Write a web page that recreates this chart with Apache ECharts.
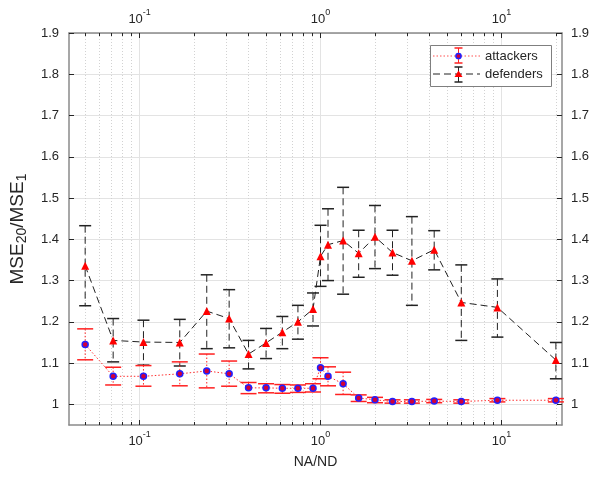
<!DOCTYPE html>
<html>
<head>
<meta charset="utf-8">
<script src="https://cdn.jsdelivr.net/npm/echarts@6/dist/echarts.min.js"></script>
<style>
  html, body { margin: 0; padding: 0; background: #fff; }
  #chart { width: 592px; height: 478px; }
</style>
</head>
<body>
<div id="chart"></div>
<script>
// NA/ND ratios on the x axis
const ratios = [0.05, 0.0714, 0.105, 0.1667, 0.235, 0.3125, 0.4, 0.5, 0.615, 0.75, 0.909,
                1.0, 1.1, 1.333, 1.625, 2, 2.5, 3.2, 4.25, 6, 9.5, 20];

// attackers: mean and error-bar limits
const attMean = [1.145, 1.068, 1.068, 1.074, 1.081, 1.074, 1.040, 1.040, 1.039, 1.039, 1.039,
                 1.089, 1.068, 1.050, 1.0155, 1.011, 1.007, 1.007, 1.008, 1.007, 1.010, 1.010];
const attLow  = [1.108, 1.047, 1.044, 1.045, 1.040, 1.044, 1.026, 1.028, 1.027, 1.029, 1.030,
                 1.062, 1.045, 1.024, 1.007, 1.004, 1.003, 1.003, 1.004, 1.003, 1.006, 1.006];
const attHigh = [1.183, 1.090, 1.094, 1.103, 1.122, 1.105, 1.053, 1.050, 1.048, 1.047, 1.050,
                 1.113, 1.091, 1.078, 1.023, 1.017, 1.011, 1.011, 1.012, 1.011, 1.014, 1.014];

// defenders: mean and error-bar limits
const defMean = [1.336, 1.155, 1.151, 1.150, 1.226, 1.208, 1.122, 1.149, 1.175, 1.200, 1.231,
                 1.359, 1.387, 1.397, 1.366, 1.406, 1.368, 1.348, 1.375, 1.247, 1.235, 1.1075];
const defLow  = [1.239, 1.103, 1.095, 1.093, 1.135, 1.137, 1.086, 1.111, 1.135, 1.158, 1.190,
                 1.286, 1.300, 1.267, 1.308, 1.329, 1.313, 1.240, 1.326, 1.155, 1.163, 1.062];
const defHigh = [1.433, 1.208, 1.204, 1.206, 1.314, 1.278, 1.155, 1.184, 1.213, 1.240, 1.270,
                 1.434, 1.474, 1.526, 1.422, 1.482, 1.422, 1.455, 1.421, 1.338, 1.304, 1.150];

// axis ticks
const xMajorTicks = [0.1, 1, 10];
const xMinorTicks = [0.05, 0.06, 0.07, 0.08, 0.09, 0.2, 0.3, 0.4, 0.5, 0.6, 0.7, 0.8, 0.9,
                     2, 3, 4, 5, 6, 7, 8, 9, 20];
const yTicks = [1, 1.1, 1.2, 1.3, 1.4, 1.5, 1.6, 1.7, 1.8, 1.9];

const X_MIN = 0.0407, X_MAX = 21.6, Y_MIN = 0.95, Y_MAX = 1.9;
const TEXT = '#262626';
const BOX = '#8a8a8a';
const DEF_DASH = [7, 4];
const ATT_DOT = [1.5, 2];

const attLine = ratios.map((x, i) => [x, attMean[i]]);
const defLine = ratios.map((x, i) => [x, defMean[i]]);
const attErr = ratios.map((x, i) => [x, attLow[i], attHigh[i]]);
const defErr = ratios.map((x, i) => [x, defLow[i], defHigh[i]]);

function powLabel(v) {
  const e = Math.round(Math.log10(v));
  return '{b|10}{s|' + e + '}';
}
const powRich = {
  b: { fontSize: 13, color: TEXT, lineHeight: 22, fontFamily: 'Liberation Sans' },
  s: { fontSize: 9, color: TEXT, verticalAlign: 'top', fontFamily: 'Liberation Sans' }
};

function errorBars(color, dash, cap, capWidth) {
  return function (params, api) {
    const x = api.value(0);
    const top = api.coord([x, api.value(2)]);
    const bot = api.coord([x, api.value(1)]);
    const capStyle = { stroke: color, lineWidth: capWidth };
    return {
      type: 'group',
      children: [
        { type: 'line', shape: { x1: top[0], y1: top[1], x2: bot[0], y2: bot[1] },
          style: { stroke: color, lineWidth: 1, lineDash: dash } },
        { type: 'line', shape: { x1: top[0] - cap, y1: top[1], x2: top[0] + cap, y2: top[1] }, style: capStyle },
        { type: 'line', shape: { x1: bot[0] - cap, y1: bot[1], x2: bot[0] + cap, y2: bot[1] }, style: capStyle }
      ]
    };
  };
}

function logAxis(position, ticks, opts) {
  return Object.assign({
    type: 'log', logBase: 10, min: X_MIN, max: X_MAX, position: position,
    axisLine: { show: false },
    axisTick: { show: true, inside: true, length: 5, customValues: ticks, lineStyle: { color: TEXT } },
    axisLabel: { show: false },
    splitLine: { show: false },
    minorTick: { show: false }
  }, opts);
}

// legend box drawn at the upper right of the plot
const LX = 430, LY = 45;
function legendText(str, y) {
  return { type: 'text', x: LX + 55, y: LY + y, z: 101,
           style: { text: str, fill: TEXT, fontSize: 13, fontFamily: 'Liberation Sans',
                    align: 'left', verticalAlign: 'middle' } };
}
function seg(x1, y1, x2, y2, stroke, width, dash) {
  return { type: 'line', z: 101, shape: { x1: LX + x1, y1: LY + y1, x2: LX + x2, y2: LY + y2 },
           style: { stroke: stroke, lineWidth: width, lineDash: dash || null } };
}

const chart = echarts.init(document.getElementById('chart'), null, { renderer: 'canvas' });

chart.setOption({
  animation: false,
  backgroundColor: '#ffffff',
  grid: { left: 66, right: 30, top: 33, bottom: 53, containLabel: false },
  xAxis: [
    // bottom axis with decade labels and solid grid
    logAxis('bottom', xMajorTicks, {
      name: 'NA/ND', nameLocation: 'middle', nameGap: 30,
      nameTextStyle: { fontSize: 14, color: TEXT, fontFamily: 'Liberation Sans' },
      axisLine: { show: true, onZero: false, lineStyle: { color: BOX, width: 1.5 } },
      axisLabel: { show: true, customValues: xMajorTicks, margin: 5, formatter: powLabel, rich: powRich },
      splitLine: { show: true, lineStyle: { color: '#e3e3e3', width: 1 } }
    }),
    // bottom minor ticks with dotted grid
    logAxis('bottom', xMinorTicks, {
      axisTick: { show: true, inside: true, length: 3, customValues: xMinorTicks, lineStyle: { color: TEXT } },
      splitLine: { show: true, lineStyle: { color: '#d2d2d2', width: 1, type: [1, 2] } }
    }),
    // top axis
    logAxis('top', xMajorTicks, {
      axisLine: { show: true, onZero: false, lineStyle: { color: BOX, width: 1.5 } },
      axisLabel: { show: true, customValues: xMajorTicks, margin: 3, formatter: powLabel, rich: powRich }
    }),
    logAxis('top', xMinorTicks, {
      axisTick: { show: true, inside: true, length: 3, customValues: xMinorTicks, lineStyle: { color: TEXT } }
    })
  ],
  yAxis: [
    {
      type: 'value', min: Y_MIN, max: Y_MAX, position: 'left',
      name: 'MSE{sub|20}/MSE{sub|1}', nameLocation: 'middle', nameGap: 40, nameRotate: 90,
      nameTextStyle: {
        fontSize: 19, color: TEXT, fontFamily: 'Liberation Sans',
        rich: { sub: { fontSize: 14, color: TEXT, fontFamily: 'Liberation Sans', verticalAlign: 'bottom', padding: [9, 0, 0, 0] } }
      },
      axisLine: { show: true, onZero: false, lineStyle: { color: BOX, width: 1.5 } },
      axisTick: { show: true, inside: true, length: 5, customValues: yTicks, lineStyle: { color: TEXT } },
      axisLabel: { show: true, customValues: yTicks, margin: 10, fontSize: 13, color: TEXT, fontFamily: 'Liberation Sans',
                   formatter: v => (Math.abs(v - 1) < 1e-9 ? '1' : v.toFixed(1)) },
      splitLine: { show: true, lineStyle: { color: '#e3e3e3', width: 1 } }
    },
    {
      type: 'value', min: Y_MIN, max: Y_MAX, position: 'right',
      axisLine: { show: true, onZero: false, lineStyle: { color: BOX, width: 1.5 } },
      axisTick: { show: true, inside: true, length: 5, customValues: yTicks, lineStyle: { color: TEXT } },
      axisLabel: { show: true, customValues: yTicks, margin: 9, fontSize: 13, color: TEXT, fontFamily: 'Liberation Sans',
                   formatter: v => (Math.abs(v - 1) < 1e-9 ? '1' : v.toFixed(1)) },
      splitLine: { show: false }
    }
  ],
  series: [
    {
      name: 'defenders-err', type: 'custom', xAxisIndex: 0, yAxisIndex: 0, z: 2,
      renderItem: errorBars('#222222', DEF_DASH, 6, 1.5),
      encode: { x: 0, y: [1, 2] },
      data: defErr
    },
    {
      name: 'attackers-err', type: 'custom', xAxisIndex: 0, yAxisIndex: 0, z: 3,
      renderItem: errorBars('#ff2020', ATT_DOT, 8, 1.5),
      encode: { x: 0, y: [1, 2] },
      data: attErr
    },
    {
      name: 'defenders', type: 'line', xAxisIndex: 0, yAxisIndex: 0, z: 4,
      data: defLine,
      lineStyle: { color: '#222222', width: 1, type: DEF_DASH },
      symbol: 'triangle', symbolSize: 8,
      itemStyle: { color: '#ff0000', borderWidth: 0 }
    },
    {
      name: 'attackers', type: 'line', xAxisIndex: 0, yAxisIndex: 0, z: 5,
      data: attLine,
      lineStyle: { color: '#ff3030', width: 1, type: ATT_DOT },
      symbol: 'circle', symbolSize: 6,
      itemStyle: { color: '#d0003a', borderColor: '#2020ff', borderWidth: 1.5 }
    }
  ],
  graphic: [
    { type: 'rect', z: 100, shape: { x: LX + 0.5, y: LY + 0.5, width: 121, height: 41 },
      style: { fill: '#ffffff', stroke: '#7f7f7f', lineWidth: 1 } },
    // attackers sample
    seg(3, 11, 50, 11, '#ff5050', 1, ATT_DOT),
    seg(28.5, 3, 28.5, 18, '#ff2020', 1),
    seg(24.5, 3, 32.5, 3, '#ff2020', 1.5),
    seg(24.5, 18, 32.5, 18, '#ff2020', 1.5),
    { type: 'circle', z: 102, shape: { cx: LX + 28.5, cy: LY + 11, r: 2.6 },
      style: { fill: '#d0003a', stroke: '#2020ff', lineWidth: 1.5 } },
    legendText('attackers', 11),
    // defenders sample
    seg(3, 29, 50, 29, '#222222', 1, DEF_DASH),
    seg(28.5, 22, 28.5, 37, '#222222', 1),
    seg(24.5, 22, 32.5, 22, '#222222', 1.5),
    seg(24.5, 37, 32.5, 37, '#222222', 1.5),
    { type: 'polygon', z: 102, shape: { points: [[LX + 28.5, LY + 25.5], [LX + 32.5, LY + 32], [LX + 24.5, LY + 32]] },
      style: { fill: '#ff0000' } },
    legendText('defenders', 29)
  ]
});
</script>
</body>
</html>
